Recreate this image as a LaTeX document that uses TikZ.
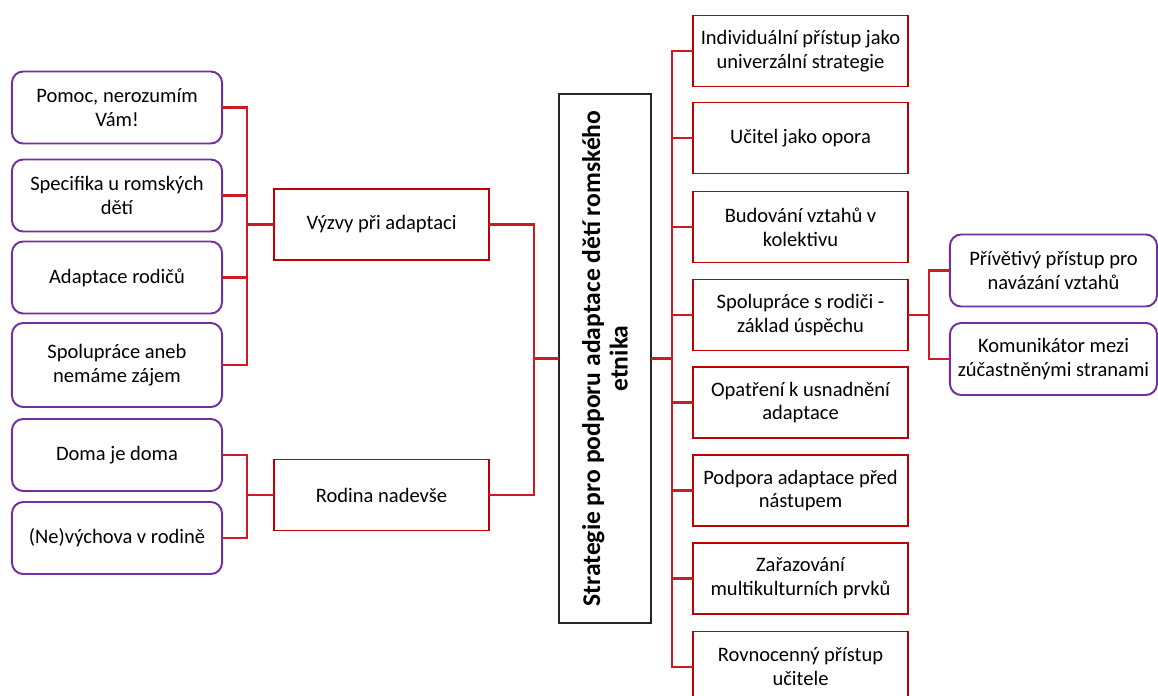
\documentclass[tikz,border=0pt]{standalone}
\usepackage{fontspec}
\setmainfont{Carlito}
\usetikzlibrary{positioning}
\definecolor{boxred}{HTML}{C00000}
\definecolor{linkred}{HTML}{CC1B22}
\definecolor{leafpurple}{HTML}{7030A0}

\begin{document}
\begin{tikzpicture}[x=0.025cm,y=-0.025cm]
\tikzset{
  leafnode/.style={rectangle,rounded corners=8pt,draw=leafpurple,line width=1.4pt,fill=white,
    minimum width=5.25cm,minimum height=1.8cm,inner sep=0pt,align=center,
    font=\fontsize{14.6}{17}\selectfont},
  topicnode/.style={rectangle,draw=boxred,line width=1.4pt,fill=white,
    minimum width=5.375cm,minimum height=1.775cm,inner sep=0pt,align=center,
    font=\fontsize{14.6}{17}\selectfont},
  rootnode/.style={rectangle,draw=black!85,line width=1.4pt,fill=white,rotate=90,
    minimum width=13.225cm,minimum height=2.3cm,inner sep=0pt,align=center,
    font=\fontsize{18.2}{19.5}\selectfont\bfseries},
  link/.style={draw=linkred,line width=1.6pt,line cap=rect,line join=miter}
}
\useasboundingbox (0,0) rectangle (1158,696);
\clip (0,0) rectangle (1158,696);
% bars
\coordinate (bar_L) at (247,0);
\coordinate (bar_S) at (534,0);
\coordinate (bar_R) at (672,0);
\coordinate (bar_F) at (929,0);
% root
\node[rootnode] (n_S) at (605,358.5) {Strategie pro podporu adaptace dětí romského\\etnika};
% left side
\node[topicnode] (n_V) at (381.5,224.5) {Výzvy při adaptaci};
\node[topicnode] (n_R) at (381.5,495) {Rodina nadevše};
\node[leafnode] (n_L1) at (117,107.5) {Pomoc, nerozumím\\Vám!};
\node[leafnode] (n_L2) at (117,195.5) {Specifika u romských\\dětí};
\node[leafnode] (n_L3) at (117,277.5) {Adaptace rodičů};
\node[leafnode,minimum height=2.1cm] (n_L4) at (117,365) {Spolupráce aneb\\nemáme zájem};
\node[leafnode] (n_L5) at (117,455) {Doma je doma};
\node[leafnode] (n_L6) at (117,538) {(Ne)výchova v rodině};
% right side
\node[topicnode] (n_B1) at (800.5,51) {Individuální přístup jako\\univerzální strategie};
\node[topicnode] (n_B2) at (800.5,138) {Učitel jako opora};
\node[topicnode] (n_B3) at (800.5,227) {Budování vztahů v\\kolektivu};
\node[topicnode] (n_B4) at (800.5,315) {Spolupráce s rodiči -\\základ úspěchu};
\node[topicnode] (n_B5) at (800.5,402.5) {Opatření k usnadnění\\adaptace};
\node[topicnode] (n_B6) at (800.5,490.5) {Podpora adaptace před\\nástupem};
\node[topicnode] (n_B7) at (800.5,578.5) {Zařazování\\multikulturních prvků};
\node[topicnode] (n_B8) at (800.5,667) {Rovnocenný přístup\\učitele};
\node[leafnode,minimum width=5.175cm] (n_F1) at (1053.5,270.5) {Přívětivý přístup pro\\navázání vztahů};
\node[leafnode,minimum width=5.175cm] (n_F2) at (1053.5,359) {Komunikátor mezi\\zúčastněnými stranami};
% connectors
\draw[link] (n_L1.east) -| (bar_L |- n_V.west) -- (n_V.west);
\draw[link] (n_L2.east) -| (bar_L |- n_V.west) -- (n_V.west);
\draw[link] (n_L3.east) -| (bar_L |- n_V.west) -- (n_V.west);
\draw[link] (n_L4.east) -| (bar_L |- n_V.west) -- (n_V.west);
\draw[link] (n_L5.east) -| (bar_L |- n_R.west) -- (n_R.west);
\draw[link] (n_L6.east) -| (bar_L |- n_R.west) -- (n_R.west);
\draw[link] (n_V.east) -| (bar_S |- n_S.north) -- (n_S.north);
\draw[link] (n_R.east) -| (bar_S |- n_S.north) -- (n_S.north);
\draw[link] (n_S.south) -| (bar_R |- n_B1.west) -- (n_B1.west);
\draw[link] (n_S.south) -| (bar_R |- n_B2.west) -- (n_B2.west);
\draw[link] (n_S.south) -| (bar_R |- n_B3.west) -- (n_B3.west);
\draw[link] (n_S.south) -| (bar_R |- n_B4.west) -- (n_B4.west);
\draw[link] (n_S.south) -| (bar_R |- n_B5.west) -- (n_B5.west);
\draw[link] (n_S.south) -| (bar_R |- n_B6.west) -- (n_B6.west);
\draw[link] (n_S.south) -| (bar_R |- n_B7.west) -- (n_B7.west);
\draw[link] (n_S.south) -| (bar_R |- n_B8.west) -- (n_B8.west);
\draw[link] (n_B4.east) -| (bar_F |- n_F1.west) -- (n_F1.west);
\draw[link] (n_B4.east) -| (bar_F |- n_F2.west) -- (n_F2.west);
\end{tikzpicture}
\end{document}
